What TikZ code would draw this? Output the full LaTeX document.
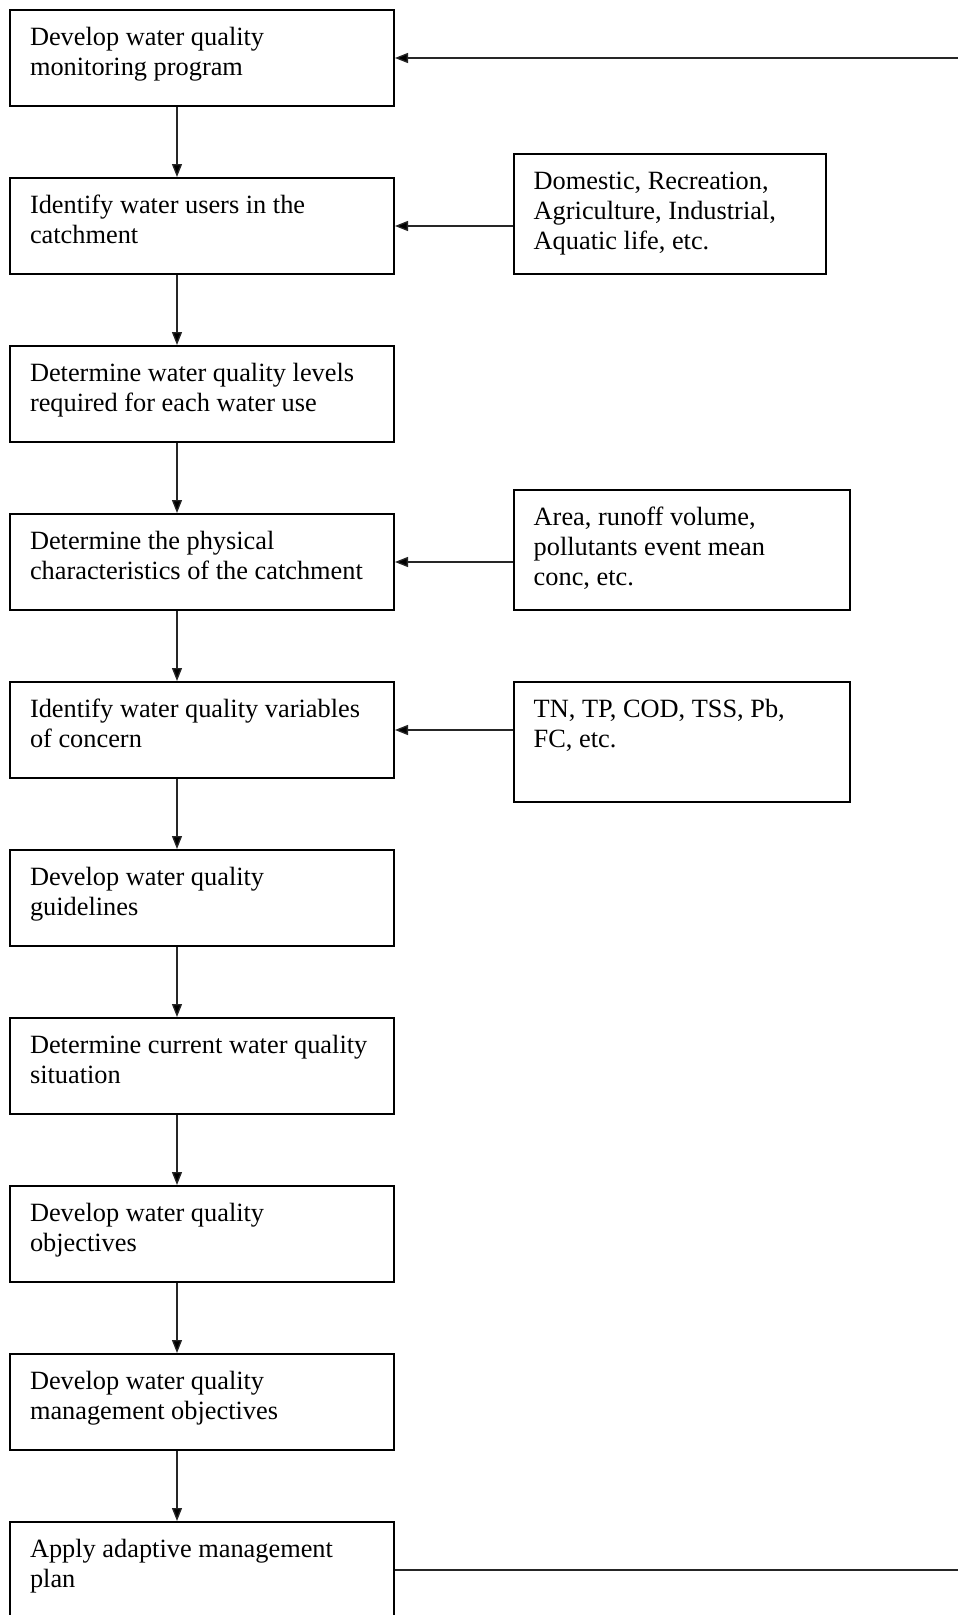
\documentclass[tikz,border=0pt]{standalone}
\usepackage{fontspec}
\setmainfont{Liberation Serif}
\usetikzlibrary{arrows.meta}
\newcommand\mtxt[1]{\parbox[c][67pt][t]{344pt}{\strut #1}}
\newcommand\atxt[1]{\parbox[c][91pt][t]{272pt}{\strut #1}}
\newcommand\btxt[1]{\parbox[c][91pt][t]{296pt}{\strut #1}}
\tikzset{
  basebox/.style={draw=black, line width=2pt, anchor=north west, inner xsep=20pt, inner ysep=14.5pt,
    font=\fontsize{26.35}{30}\selectfont},
  mbox/.style={basebox},
  sbox/.style={basebox},
  conn/.style={draw=black!85, line width=1.3pt},
  arr/.style={conn, -{Triangle[length=13pt,width=10pt,fill=black]}}
}
\begin{document}
\begin{tikzpicture}[x=1pt,y=1pt]
\useasboundingbox (0,0) rectangle (958,-1615);
\fill[white] (0,0) rectangle (958,-1615);
\node[mbox] (m1) at (9,-9) {\mtxt{\mbox{Develop water quality}\\\mbox{monitoring program}}};
\node[mbox] (m2) at (9,-177) {\mtxt{\mbox{Identify water users in the}\\\mbox{catchment}}};
\node[mbox] (m3) at (9,-345) {\mtxt{\mbox{Determine water quality levels}\\\mbox{required for each water use}}};
\node[mbox] (m4) at (9,-513) {\mtxt{\mbox{Determine the physical}\\\mbox{characteristics of the catchment}}};
\node[mbox] (m5) at (9,-681) {\mtxt{\mbox{Identify water quality variables}\\\mbox{of concern}}};
\node[mbox] (m6) at (9,-849) {\mtxt{\mbox{Develop water quality}\\\mbox{guidelines}}};
\node[mbox] (m7) at (9,-1017) {\mtxt{\mbox{Determine current water quality}\\\mbox{situation}}};
\node[mbox] (m8) at (9,-1185) {\mtxt{\mbox{Develop water quality}\\\mbox{objectives}}};
\node[mbox] (m9) at (9,-1353) {\mtxt{\mbox{Develop water quality}\\\mbox{management objectives}}};
\node[mbox] (m10) at (9,-1521) {\mtxt{\mbox{Apply adaptive management}\\\mbox{plan}}};

\node[sbox] (sa) at (512.7,-152.7) {\atxt{\mbox{Domestic, Recreation,}\\\mbox{Agriculture, Industrial,}\\\mbox{Aquatic life, etc.}}};
\node[sbox] (sb) at (512.7,-489) {\btxt{\mbox{Area, runoff volume,}\\\mbox{pollutants event mean}\\\mbox{conc, etc.}}};
\node[sbox] (sc) at (512.7,-681) {\btxt{\mbox{TN, TP, COD, TSS, Pb,}\\\mbox{FC, etc.}}};

\foreach \a/\b in {m1/m2,m2/m3,m3/m4,m4/m5,m5/m6,m6/m7,m7/m8,m8/m9,m9/m10}{
  \draw[arr] ([xshift=168pt]\a.south west) -- ([xshift=168pt]\b.north west);
}
\draw[arr] (sa.west |- m2.east) -- (m2.east);
\draw[arr] (sb.west |- m4.east) -- (m4.east);
\draw[arr] (sc.west |- m5.east) -- (m5.east);

\coordinate (R) at (962,0);
\draw[arr] (R |- m1.east) -- (m1.east);
\draw[conn] (m10.east) -- (R |- m10.east);
\end{tikzpicture}
\end{document}
